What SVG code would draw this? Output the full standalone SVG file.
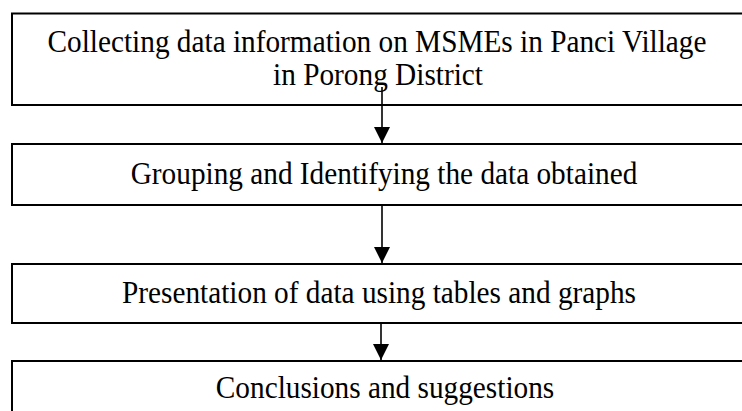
<svg xmlns="http://www.w3.org/2000/svg" width="742" height="411" viewBox="0 0 742 411">
<style>
.box{fill:#fff;stroke:#000;stroke-width:2}
.t{font-family:"Liberation Serif","Times New Roman",serif;font-size:29.3px;fill:#000;text-anchor:middle}
.c{stroke:#000;stroke-width:1.6;fill:none}
</style>
<defs>
<marker id="ah" markerUnits="userSpaceOnUse" markerWidth="17" markerHeight="16" refX="16" refY="8" orient="auto" viewBox="0 0 17 16">
<path d="M0,0 L16,8 L0,16 Z" fill="#000"/>
</marker>
</defs>
<rect width="742" height="411" fill="#fff"/>
<g id="node1">
<rect class="box" x="12" y="13.5" width="740" height="91.5"/>
<text class="t" transform="translate(377,52) scale(1,1.1)">Collecting data information on MSMEs in Panci Village</text>
<text class="t" transform="translate(378,85) scale(1,1.1)">in Porong District</text>
</g>
<g id="node2">
<rect class="box" x="12" y="144" width="740" height="61"/>
<text class="t" transform="translate(384,184) scale(1,1.1)">Grouping and Identifying the data obtained</text>
</g>
<g id="node3">
<rect class="box" x="12" y="264" width="740" height="59"/>
<text class="t" transform="translate(379,303) scale(1,1.1)">Presentation of data using tables and graphs</text>
</g>
<g id="node4">
<rect class="box" x="12" y="361" width="740" height="60"/>
<text class="t" transform="translate(385,398) scale(1,1.1)">Conclusions and suggestions</text>
</g>
<g id="connectors">
<line class="c" x1="382" y1="87" x2="382" y2="143" marker-end="url(#ah)"/>
<line class="c" x1="382" y1="205" x2="382" y2="263" marker-end="url(#ah)"/>
<line class="c" x1="381" y1="323" x2="381" y2="360" marker-end="url(#ah)"/>
</g>
</svg>
